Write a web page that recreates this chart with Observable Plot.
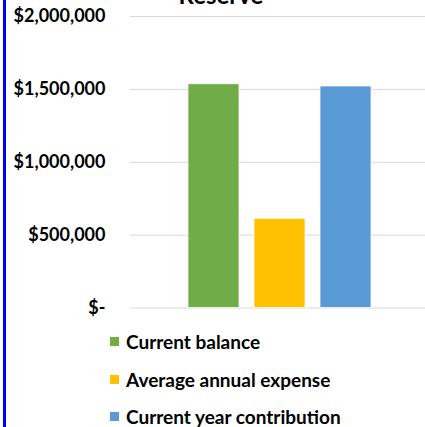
<!DOCTYPE html>
<html>
<head>
<meta charset="utf-8">
<script src="https://cdn.jsdelivr.net/npm/d3@7"></script>
<script src="https://cdn.jsdelivr.net/npm/@observablehq/plot@0.6"></script>
<style>
  html, body { margin: 0; padding: 0; background: #fff; overflow: hidden; }
  #wrap { position: relative; width: 425px; height: 427px; font-family: Lato, "Open Sans", sans-serif; }
  #bar { position: absolute; left: 3px; top: 0; width: 3px; height: 427px; background: #0000ff; }
  #title { position: absolute; left: 0; width: 442px; top: -17px; text-align: center;
           font: bold 24px Lato, sans-serif; line-height: 24px; color: #000; }
  #chart { position: absolute; left: 0; top: 0; }
  #legend { position: absolute; left: 110px; top: 323px; }
  .lg-swatches { margin: 0 !important; min-height: 0 !important; font: bold 19px Lato, sans-serif !important; color: #000; }
  .lg-swatch { height: 37.5px; display: flex !important; align-items: center; padding: 0 !important; }
  .lg-swatch svg { margin-right: 7px !important; }
</style>
</head>
<body>
<div id="wrap">
  <div id="bar"></div>
  <div id="chart"></div>
  <div id="title">Reserve</div>
  <div id="legend"></div>
</div>
<script>
const categories = ["Current balance", "Average annual expense", "Current year contribution"];
const values = [1535000, 612000, 1520000];
const colors = ["#70ad47", "#ffc000", "#5b9bd5"];
const yTicks = [0, 500000, 1000000, 1500000, 2000000];

const data = categories.map((c, i) => ({category: c, value: values[i]}));
const fmt = d => d === 0 ? "$-" : "$" + d3.format(",")(d);

const plot = Plot.plot({
  width: 425,
  height: 320,
  marginLeft: 130,
  marginRight: 0,
  marginTop: 16,
  marginBottom: 12.5,
  style: {fontFamily: "Lato, sans-serif", fontSize: "18px", fontWeight: "bold", color: "#000", background: "transparent"},
  x: {domain: categories, range: [187.7, 371.7], paddingInner: 0.233, paddingOuter: 0, axis: null},
  y: {domain: [0, 2000000], ticks: yTicks, tickFormat: fmt, tickSize: 0, tickPadding: 25, label: null},
  color: {domain: categories, range: colors},
  marks: [
    Plot.ruleY(yTicks, {stroke: "#d9d9d9", strokeWidth: 1}),
    Plot.barY(data, {x: "category", y: "value", fill: "category", stroke: "white", strokeWidth: 0.75})
  ]
});
document.getElementById("chart").appendChild(plot);
const leg = plot.legend("color", {legend: "swatches", columns: 1, swatchSize: 9, className: "lg"});
document.getElementById("legend").appendChild(leg);
</script>
</body>
</html>
